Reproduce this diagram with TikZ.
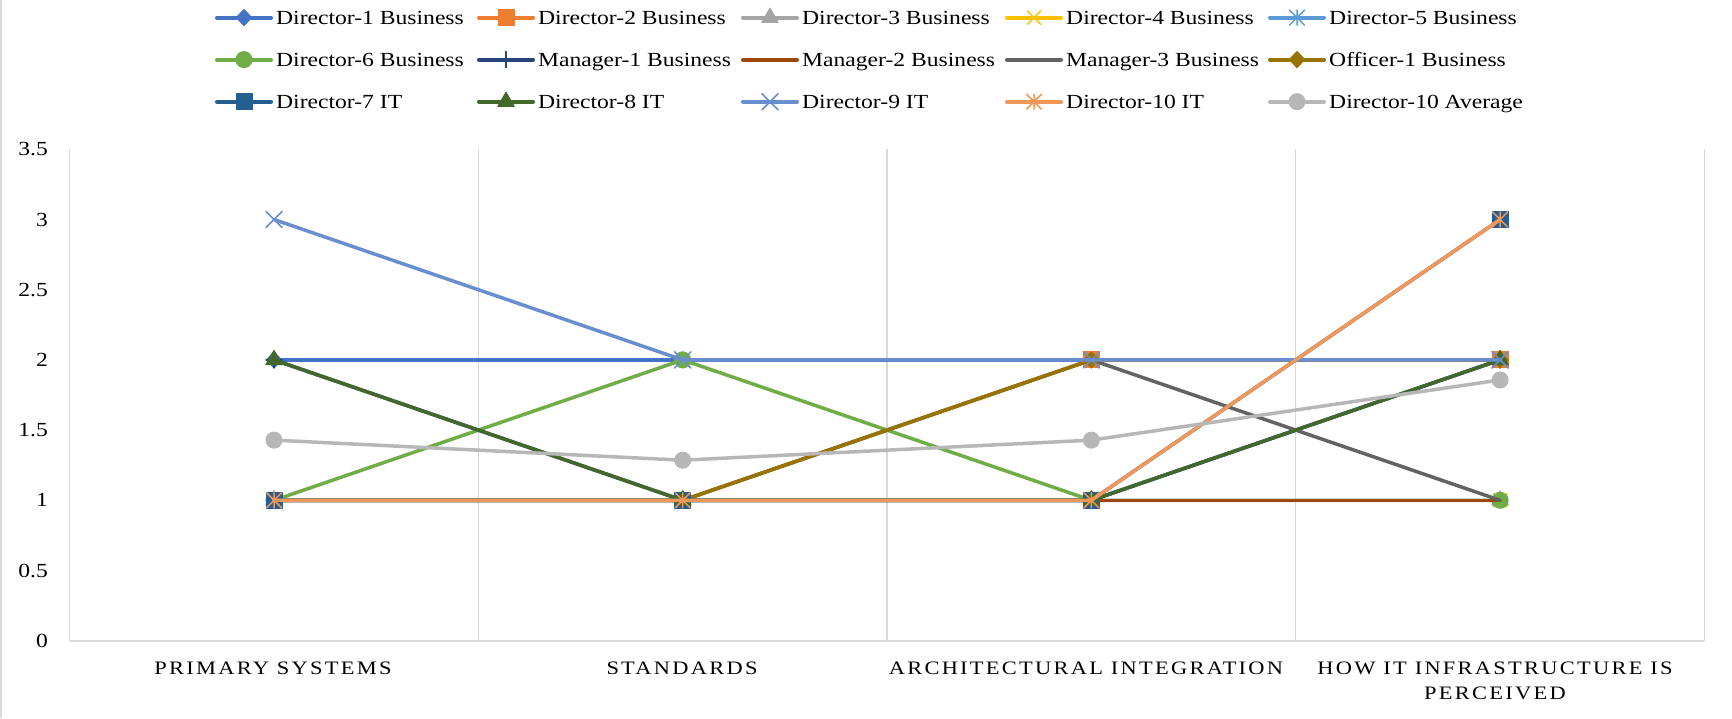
\documentclass[tikz,border=0pt]{standalone}
\usepackage{fontspec}
\setmainfont{Liberation Serif}
\newfontfamily\chartfont{Liberation Serif}[FakeStretch=1.18]
\newfontfamily\catfont{Liberation Serif}[FakeStretch=1.18,LetterSpace=12]
\usetikzlibrary{plotmarks}

\definecolor{c-dirone}{HTML}{4472C4}
\definecolor{c-dirtwo}{HTML}{ED7D31}
\definecolor{c-dirthree}{HTML}{A5A5A5}
\definecolor{c-dirfour}{HTML}{FFC000}
\definecolor{c-dirfive}{HTML}{5B9BD5}
\definecolor{c-dirsix}{HTML}{70AD47}
\definecolor{c-mgrone}{HTML}{264478}
\definecolor{c-mgrtwo}{HTML}{9E480E}
\definecolor{c-mgrthree}{HTML}{636363}
\definecolor{c-offone}{HTML}{997300}
\definecolor{c-dirseven}{HTML}{255E91}
\definecolor{c-direight}{HTML}{43682B}
\definecolor{c-dirnine}{HTML}{698ED0}
\definecolor{c-dirten}{HTML}{F1975A}
\definecolor{c-dirtenavg}{HTML}{B7B7B7}
\definecolor{c-grid}{HTML}{D9D9D9}

% star marker: an x with a vertical bar
\pgfdeclareplotmark{xstar}{%
  \pgfpathmoveto{\pgfqpoint{-\pgfplotmarksize}{-\pgfplotmarksize}}%
  \pgfpathlineto{\pgfqpoint{\pgfplotmarksize}{\pgfplotmarksize}}%
  \pgfpathmoveto{\pgfqpoint{-\pgfplotmarksize}{\pgfplotmarksize}}%
  \pgfpathlineto{\pgfqpoint{\pgfplotmarksize}{-\pgfplotmarksize}}%
  \pgfpathmoveto{\pgfqpoint{0pt}{-\pgfplotmarksize}}%
  \pgfpathlineto{\pgfqpoint{0pt}{\pgfplotmarksize}}%
  \pgfusepathqstroke}

\tikzset{
  series/.style={line width=3.5pt, line cap=round, line join=round, mark size=8pt},
  dirone/.style={series, color=c-dirone, mark=diamond*, mark options={xscale=1.3, line width=1pt}},
  dirtwo/.style={series, color=c-dirtwo, mark=square*, mark options={line width=1pt}},
  dirthree/.style={series, color=c-dirthree, mark=triangle*, mark size=9.5pt, mark options={line width=1pt}},
  dirfour/.style={series, color=c-dirfour, mark=x, mark size=9.5pt, mark options={line width=1.5pt}},
  dirfive/.style={series, color=c-dirfive, mark=xstar, mark size=7.5pt, mark options={line width=1.5pt}},
  dirsix/.style={series, color=c-dirsix, mark=*, mark options={line width=1pt}},
  mgrone/.style={series, color=c-mgrone, mark=+, mark options={line width=1.5pt}},
  mgrtwo/.style={series, color=c-mgrtwo},
  mgrthree/.style={series, color=c-mgrthree},
  offone/.style={series, color=c-offone, mark=diamond*, mark options={xscale=1.3, line width=1pt}},
  dirseven/.style={series, color=c-dirseven, mark=square*, mark options={line width=1pt}},
  direight/.style={series, color=c-direight, mark=triangle*, mark size=9.5pt, mark options={line width=1pt}},
  dirnine/.style={series, color=c-dirnine, mark=x, mark size=11.5pt, mark options={line width=1.5pt}},
  dirten/.style={series, color=c-dirten, mark=xstar, mark size=7.5pt, mark options={line width=1.5pt}},
  dirtenavg/.style={series, color=c-dirtenavg, mark=*, mark options={line width=1pt}},
  gridln/.style={draw=c-grid, line width=1.3pt},
  axisln/.style={draw=c-grid, line width=2pt},
  ticklbl/.style={anchor=east, inner sep=0pt, font=\chartfont\fontsize{20}{24}\selectfont},
  catlbl/.style={anchor=base, inner sep=0pt, font=\catfont\fontsize{19}{22}\selectfont},
  legline/.style={line width=4pt, mark indices={2}},
  legtxt/.style={anchor=base west, inner sep=0pt, font=\chartfont\fontsize{20}{24}\selectfont}
}

\begin{document}
\begin{tikzpicture}[x=1pt,y=-1pt]
    \useasboundingbox[fill=white] (0,0) rectangle (1732,718);
    \draw[draw=c-grid, line width=1.5pt] (1,0) -- (1,718);

    % value axis
    \foreach \v [count=\i] in {0,0.5,1,1.5,2,2.5,3,3.5}
        \node[ticklbl] (ytick\i) at (48,{640.7-140.4*\v}) {\v};

    % categories
    \node[catlbl] (cat1) at (273,674) {PRIMARY SYSTEMS};
    \node[catlbl] (cat2) at (682,674) {STANDARDS};
    \node[catlbl] (cat3) at (1086,674) {ARCHITECTURAL INTEGRATION};
    \node[catlbl] (cat4) at (1495,674) {HOW IT INFRASTRUCTURE IS};
    \node[catlbl] (cat4b) at (1495,699) {PERCEIVED};

    \begin{scope}[shift={(-134.7,640.7)}, x=408.7pt, y=140.4pt]
        \foreach \g in {0.5,1.5,...,4.5}
            \draw[gridln] (\g,0) -- (\g,3.5);
        \draw[axisln] (0.5,0) -- (4.5,0);

        \draw[dirone] plot coordinates {(1,2) (2,2) (3,2) (4,2)};
        \draw[dirtwo] plot coordinates {(1,1) (2,1) (3,2) (4,2)};
        \draw[dirthree] plot coordinates {(1,1) (2,1) (3,1) (4,1)};
        \draw[dirfour] plot coordinates {(1,1) (2,1) (3,1) (4,1)};
        \draw[dirfive] plot coordinates {(1,1) (2,1) (3,1) (4,2)};
        \draw[dirsix] plot coordinates {(1,1) (2,2) (3,1) (4,1)};
        \draw[mgrone] plot coordinates {(1,2) (2,1) (3,1) (4,2)};
        \draw[mgrtwo] plot coordinates {(1,1) (2,1) (3,1) (4,1)};
        \draw[mgrthree] plot coordinates {(1,1) (2,1) (3,2) (4,1)};
        \draw[offone] plot coordinates {(1,1) (2,1) (3,2) (4,2)};
        \draw[dirseven] plot coordinates {(1,1) (2,1) (3,1) (4,3)};
        \draw[direight] plot coordinates {(1,2) (2,1) (3,1) (4,2)};
        \draw[dirnine] plot coordinates {(1,3) (2,2) (3,2) (4,2)};
        \draw[dirten] plot coordinates {(1,1) (2,1) (3,1) (4,3)};
        \draw[dirtenavg] plot coordinates {(1,1.4286) (2,1.2857) (3,1.4286) (4,1.8571)};
    \end{scope}

    % legend
    \foreach \sty/\lab/\cx/\ry [count=\n] in {
        dirone/Director-1 Business/217/17.6, dirtwo/Director-2 Business/479/17.6,
        dirthree/Director-3 Business/743/17.6, dirfour/Director-4 Business/1007/17.6,
        dirfive/Director-5 Business/1270/17.6,
        dirsix/Director-6 Business/217/59.6, mgrone/Manager-1 Business/479/59.6,
        mgrtwo/Manager-2 Business/743/59.6, mgrthree/Manager-3 Business/1007/59.6,
        offone/Officer-1 Business/1270/59.6,
        dirseven/Director-7 IT/217/101.7, direight/Director-8 IT/479/101.7,
        dirnine/Director-9 IT/743/101.7, dirten/Director-10 IT/1007/101.7,
        dirtenavg/Director-10 Average/1270/101.7}
    {
        \draw[style=\sty, legline] plot coordinates {(\cx,\ry) (\cx+27,\ry) (\cx+54,\ry)};
        \node[legtxt] (leg\n) at (\cx+59,\ry+6.6) {\lab};
    }

\end{tikzpicture}
\end{document}
